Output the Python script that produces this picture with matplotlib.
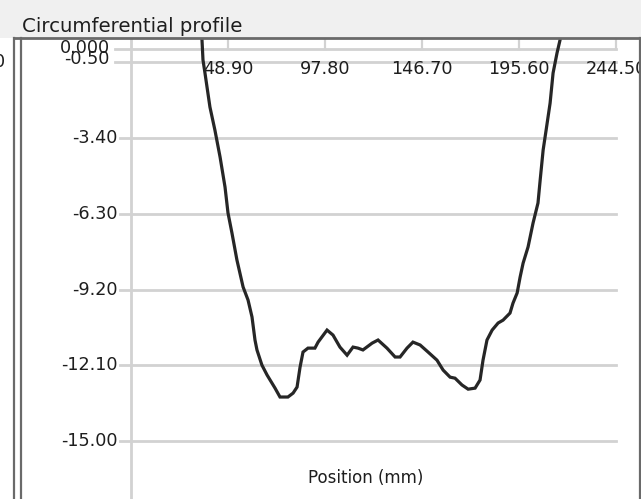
import matplotlib

matplotlib.use("Agg")
import matplotlib.pyplot as plt  # noqa: E402

# ── data ─────────────────────────────────────────────────────────────
position_mm = [
    35.5, 35.8, 36.3, 37.3, 39.8, 42.3, 44.9, 47.4, 48.9, 50.9, 53.4, 56.5,
    59.0, 61.0, 62.5, 63.5, 66.0, 68.6, 72.6, 75.1, 79.1, 81.7, 83.7, 85.2,
    86.7, 89.2, 92.7, 94.3, 98.8, 101.8, 105.3, 108.9, 111.9, 114.4, 116.9,
    121.5, 124.5, 129.0, 133.1, 135.6, 139.1, 142.1, 145.7, 149.7, 154.2,
    157.3, 160.8, 163.3, 166.8, 169.9, 173.4, 175.9, 177.4, 179.4, 182.0,
    185.0, 187.5, 191.0, 192.5, 194.6, 196.1, 197.6, 200.1, 202.6, 205.1,
    206.2, 207.7, 209.2, 211.2, 212.7, 214.7, 216.2, 216.7,
]
depth_mm = [
    0.7, 0.34, -0.42, -0.92, -2.22, -3.10, -4.13, -5.28, -6.27, -7.04, -8.07,
    -9.10, -9.60, -10.25, -11.13, -11.51, -12.09, -12.47, -12.97, -13.31,
    -13.31, -13.16, -12.93, -12.17, -11.59, -11.44, -11.44, -11.21, -10.75,
    -10.94, -11.40, -11.71, -11.40, -11.44, -11.51, -11.25, -11.13, -11.44,
    -11.78, -11.78, -11.44, -11.21, -11.32, -11.59, -11.90, -12.28, -12.55,
    -12.59, -12.85, -13.01, -12.97, -12.66, -11.90, -11.13, -10.75, -10.48,
    -10.37, -10.10, -9.72, -9.33, -8.72, -8.19, -7.57, -6.66, -5.89, -5.01,
    -3.86, -3.10, -2.07, -0.92, -0.15, 0.34, 0.7,
]
x_ticks = [48.90, 97.80, 146.70, 195.60, 244.50]
x_tick_labels = ["48.90", "97.80", "146.70", "195.60", "244.50"]
y_ticks = [-3.40, -6.30, -9.20, -12.10, -15.00]
y_tick_labels = ["-3.40", "-6.30", "-9.20", "-12.10", "-15.00"]
top_ticks = [0.0, -0.50]
top_tick_labels = ["0.000", "-0.50"]

plt.rcParams["font.family"] = ["DejaVu Sans"]
TEXT = "#1e1e1e"
GRID = "#d2d2d2"
FRAME = "#6a6a6a"

W, H = 641, 499
figure = plt.figure(figsize=(W / 100, H / 100), dpi=100, facecolor="#f0f0f0")

# white plot panel below the title band
panel = figure.add_axes([0, 0, 1, (H - 38) / H])
panel.set_facecolor("white")
panel.set_xticks([])
panel.set_yticks([])
for side in panel.spines.values():
    side.set_visible(False)

# double frame line on the left, dark border on top and right
for px in (14, 21):
    figure.add_artist(
        plt.Line2D([px / W, px / W], [0, (H - 38) / H], color=FRAME, lw=1.6)
    )
figure.add_artist(plt.Line2D([14 / W, 1], [(H - 38) / H] * 2, color=FRAME, lw=2.0))
figure.add_artist(plt.Line2D([640 / W] * 2, [0, (H - 38) / H], color=FRAME, lw=1.6))

axis = figure.add_axes([21 / W, 0, 619 / W, (H - 38) / H])
axis.set_xlim(-55.4, 256.5)
axis.set_ylim(-17.21, 0.42)
axis.axis("off")

# grid lines + short tick marks
for value in y_ticks:
    axis.plot([-5.5, 244.5], [value, value], color=GRID, lw=2.0, zorder=1)
for value in top_ticks:
    axis.plot([-8.0, 244.5], [value, value], color=GRID, lw=2.0, zorder=1)
axis.plot([0, 0], [-17.21, 0.42], color=GRID, lw=2.0, zorder=1)
for value in x_ticks:
    axis.plot([value, value], [0, 0.42], color=GRID, lw=1.6, zorder=1)

# tick labels
for value, label in zip(y_ticks, y_tick_labels):
    axis.text(-6.6, value, label, ha="right", va="center",
              fontsize=12.7, color=TEXT, zorder=2)
axis.text(-10.6, 0.05, top_tick_labels[0], ha="right", va="center",
          fontsize=12.7, color=TEXT, zorder=2)
axis.text(-10.6, -0.38, top_tick_labels[1], ha="right", va="center",
          fontsize=12.7, color=TEXT, zorder=2)
for value, label in zip(x_ticks, x_tick_labels):
    axis.text(value, -0.75, label, ha="center", va="center",
              fontsize=12.7, color=TEXT, zorder=2, clip_on=True)

# the profile itself, drawn over the labels
axis.plot(position_mm, depth_mm, color="#262626", lw=2.3, zorder=3,
          solid_joinstyle="miter")

axis.text(118.5, -16.4, "Position (mm)", ha="center", va="center",
          fontsize=12.0, color=TEXT)

figure.text(22 / W, 1 - 27 / H, "Circumferential profile", ha="left",
            va="center", fontsize=14.2, color=TEXT)
# half-hidden label at the far left edge
figure.text(-6 / W, 1 - 62 / H, "0", ha="left", va="center",
            fontsize=12.7, color=TEXT)

figure.savefig("out.png", dpi=100, facecolor=figure.get_facecolor())
plt.close(figure)
